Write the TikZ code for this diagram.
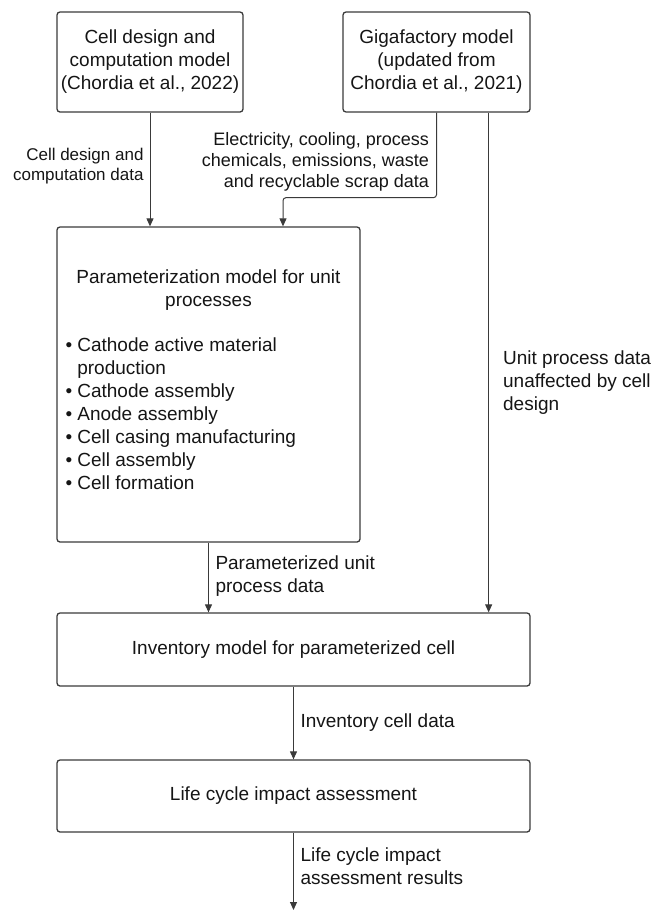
\documentclass[tikz,border=0pt]{standalone}
\usepackage{fontspec}
\setmainfont{Liberation Sans}
\usetikzlibrary{arrows.meta,positioning,calc}
\definecolor{edge}{HTML}{3A3A3A}
\definecolor{ink}{HTML}{151515}
\newcommand\bodyfont{\fontsize{19}{23}\selectfont}
\tikzset{
  box/.style ={draw=edge,line width=1.3pt,rounded corners=3pt,align=center,
               font=\bodyfont,text=ink,inner sep=0pt},
  txt/.style ={font=\bodyfont,text=ink,inner sep=0pt},
  lbl/.style ={font=\bodyfont,text=ink,inner sep=0pt},
  a/.style   ={-{Triangle[length=8pt,width=7pt]},line width=1pt,edge},
}

\begin{document}
\begin{tikzpicture}[x=1pt,y=-1pt]
  \useasboundingbox (0,0) rectangle (652,911);

  % --- source models ---
  \node[box,minimum width=186pt,minimum height=100pt] (cell) at (150,62)
        {Cell design and\\ computation model\\ (Chordia et al., 2022)};
  \node[box,minimum width=187pt,minimum height=100pt] (giga) at (436.5,62)
        {Gigafactory model\\ (updated from\\ Chordia et al., 2021)};

  % --- parameterization model ---
  \node[box,minimum width=303pt,minimum height=315pt] (param) at (208.5,384.5) {};
  \node[txt,align=center] (ptitle) at (208.5,290)
        {Parameterization model for unit\\ processes};
  \node[txt,anchor=west] (plist) at (65.5,415.5)
        {\begin{tabular}{@{}l@{\hspace{5pt}}l@{}}
          \textbullet & Cathode active material\\
                      & production\\
          \textbullet & Cathode assembly\\
          \textbullet & Anode assembly\\
          \textbullet & Cell casing manufacturing\\
          \textbullet & Cell assembly\\
          \textbullet & Cell formation
         \end{tabular}};

  % --- inventory + impact ---
  \node[box,minimum width=473pt,minimum height=73pt] (inv) at (293.5,649.5)
        {Inventory model for parameterized cell};
  \node[box,minimum width=473pt,minimum height=72pt] (lcia) at (293.5,796)
        {Life cycle impact assessment};
  \coordinate (out) at (293.5,910);

  % arrows
  \draw[a] (cell.south) -- (cell.south |- param.north)
        node[lbl,pos=.47,anchor=east,align=right,xshift=-6pt,
             font=\fontsize{17}{20}\selectfont]
        {Cell design and\\ computation data};
  \draw[a,rounded corners=3pt] (giga.south) --
        node[lbl,pos=.58,anchor=east,align=right,xshift=-7pt,
             font=\fontsize{18}{21}\selectfont]
        {Electricity, cooling, process\\ chemicals, emissions, waste\\ and recyclable scrap data}
        ($(giga.south)+(0,85)$) -| ([xshift=74.5pt]param.north);
  \draw[a] ([xshift=-42pt]giga.south east) -- ([xshift=-42pt]giga.south east |- inv.north)
        node[lbl,pos=.54,anchor=west,align=left,xshift=14pt]
        {Unit process data\\ unaffected by cell\\ design};
  \draw[a] (param.south) -- (param.south |- inv.north)
        node[lbl,pos=.48,anchor=west,align=left,xshift=6.5pt]
        {Parameterized unit\\ process data};
  \draw[a] (inv.south) -- (lcia.north)
        node[lbl,pos=.49,anchor=west,xshift=6.5pt] {Inventory cell data};
  \draw[a] (lcia.south) -- (out)
        node[lbl,pos=.44,anchor=west,align=left,xshift=6.5pt]
        {Life cycle impact\\ assessment results};
\end{tikzpicture}
\end{document}
